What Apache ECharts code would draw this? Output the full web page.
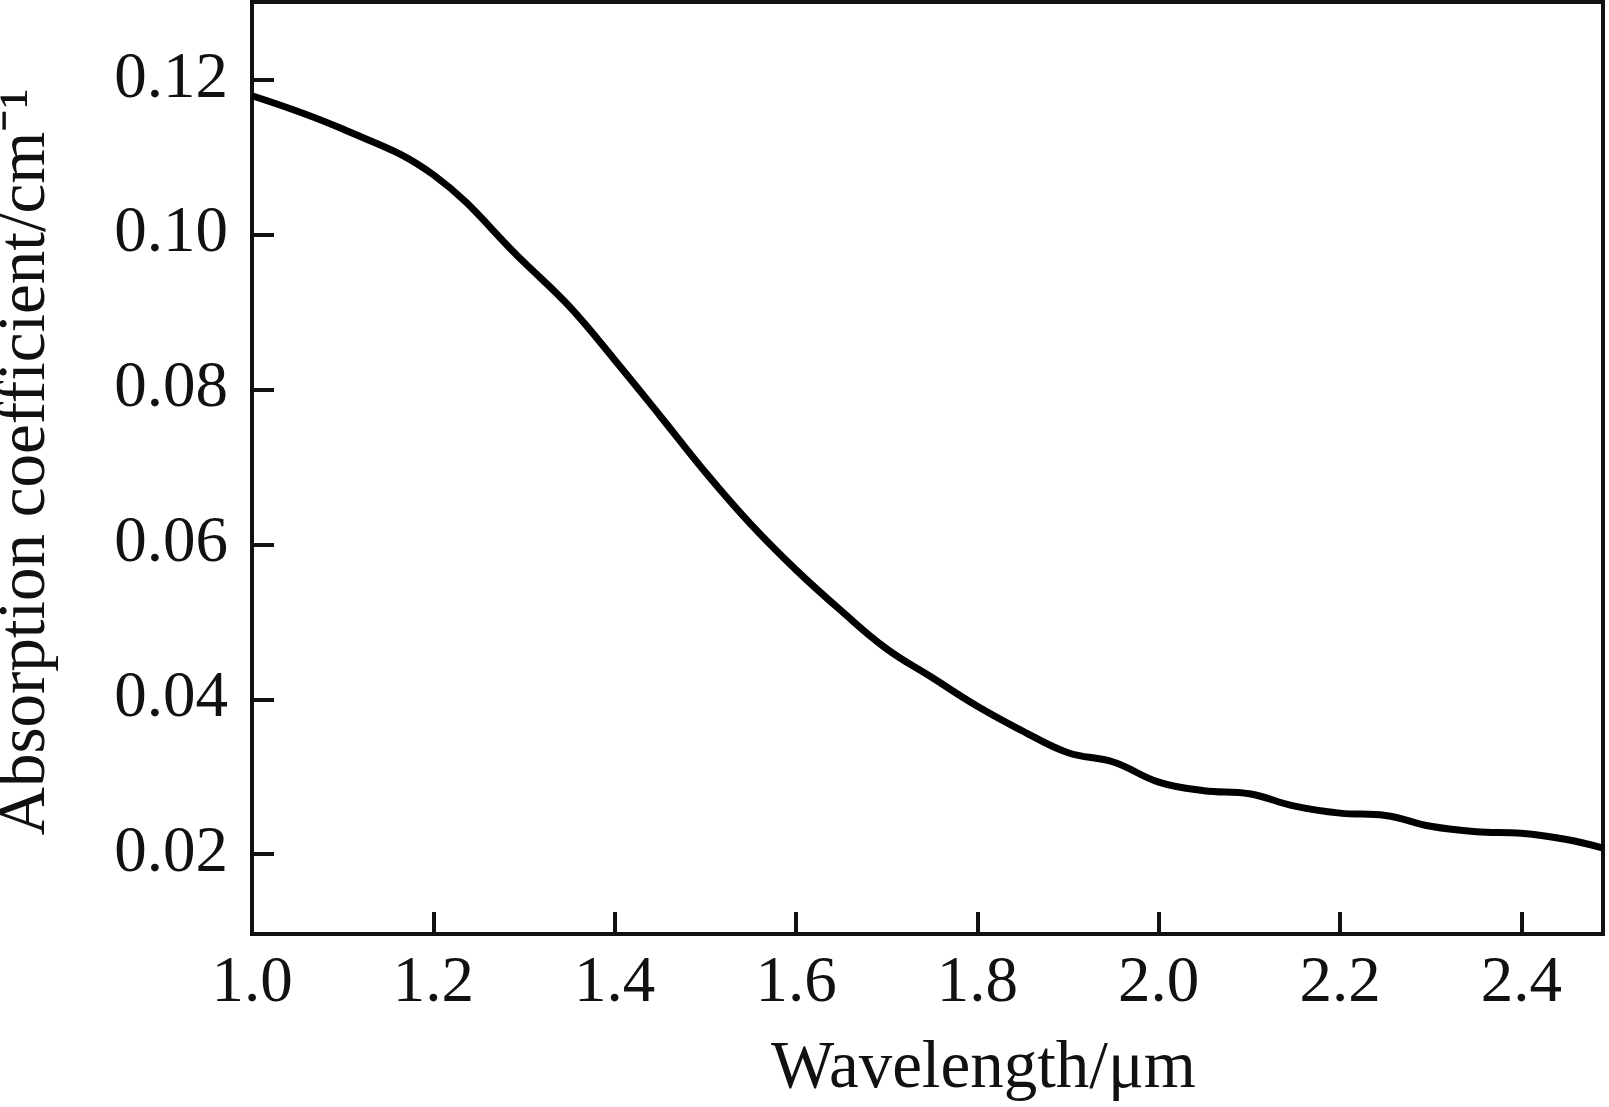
<!DOCTYPE html>
<html><head><meta charset="utf-8">
<script src="https://cdn.jsdelivr.net/npm/echarts@6/dist/echarts.min.js"></script>
<style>html,body{margin:0;background:#fff}#c{width:1609px;height:1107px}</style>
</head><body><div id="c"></div>
<script>
const wavelength=[1.0,1.1,1.2,1.3,1.35,1.4,1.45,1.5,1.55,1.6,1.65,1.7,1.75,1.8,1.85,1.9,1.95,2.0,2.05,2.1,2.15,2.2,2.25,2.3,2.35,2.4,2.45,2.49];
const absorption=[0.1179,0.1136,0.1077,0.0964,0.0907,0.0838,0.0766,0.0693,0.0626,0.0567,0.0514,0.0465,0.0428,0.0391,0.0359,0.0331,0.0319,0.0293,0.0282,0.0278,0.0262,0.0253,0.0250,0.0236,0.0229,0.0227,0.0219,0.0208];
const yTicks=[0.02,0.04,0.06,0.08,0.10,0.12];
const xTicks=[1.0,1.2,1.4,1.6,1.8,2.0,2.2,2.4];
const F='"Liberation Serif","Times New Roman",serif';
const chart=echarts.init(document.getElementById('c'));
chart.setOption({
  animation:false,
  grid:{left:252,top:2,width:1351,height:932,show:true,borderColor:'#111',borderWidth:4,backgroundColor:'transparent',outerBoundsMode:'none'},
  xAxis:{type:'value',min:1.0,max:2.49,
    name:'Wavelength/μm',nameLocation:'middle',nameGap:102,
    nameTextStyle:{fontFamily:F,fontSize:67,color:'#111',padding:[0,0,0,112]},
    axisLine:{lineStyle:{color:'#111',width:4}},
    axisTick:{inside:true,length:22,customValues:xTicks,lineStyle:{color:'#111',width:4}},
    axisLabel:{fontFamily:F,fontSize:65,color:'#111',margin:17,customValues:xTicks,formatter:v=>v.toFixed(1)},
    splitLine:{show:false}},
  yAxis:{type:'value',min:0.0097,max:0.13,
    name:'Absorption coefficient/cm⁻¹',nameLocation:'middle',nameGap:192,
    nameTextStyle:{fontFamily:F,fontSize:67,color:'#111',padding:[0,0,0,12]},
    axisLine:{lineStyle:{color:'#111',width:4}},
    axisTick:{inside:true,length:22,customValues:yTicks,lineStyle:{color:'#111',width:4}},
    axisLabel:{fontFamily:F,fontSize:65,color:'#111',margin:24,customValues:yTicks,formatter:v=>v.toFixed(2)},
    splitLine:{show:false}},
  series:[{type:'line',data:wavelength.map((x,i)=>[x,absorption[i]]),smooth:0.4,showSymbol:false,
    lineStyle:{color:'#000',width:7}}]
});
</script></body></html>
